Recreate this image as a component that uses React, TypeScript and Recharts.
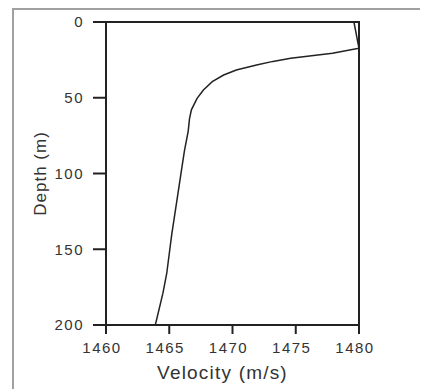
import React from 'react';
import { LineChart, Line, XAxis, YAxis, ReferenceArea } from 'recharts';

// depth (m) and sound velocity (m/s)
const depths = [0, 17.4, 20.7, 24, 26, 28.4, 31.7, 35, 39.4, 44.9, 50.4, 58, 64, 72, 85, 96, 118, 140, 166, 179, 200];
const velocities = [
  1479.6, 1480.0, 1477.9, 1474.6, 1473.2, 1471.9, 1470.3, 1469.3, 1468.4, 1467.7, 1467.2,
  1466.75, 1466.6, 1466.5, 1466.2, 1466.0, 1465.6, 1465.2, 1464.8, 1464.5, 1463.9,
];
const velocityTicks = [1460, 1465, 1470, 1475, 1480];
const depthTicks = [0, 50, 100, 150, 200];

const data = depths.map((depth, i) => ({ depth, velocity: velocities[i] }));

const font = '"Liberation Sans", Arial, sans-serif';
const ink = '#222';
const tickStyle = { fill: '#333', fontSize: 15, fontFamily: font, letterSpacing: 1.5 };

export default function App() {
  return (
    <div style={{ position: 'relative', width: 420, height: 381, overflow: 'hidden', background: '#fff' }}>
      <div style={{
        position: 'absolute', left: 4, top: 0, width: 600, height: 600,
        border: '2px solid #a0a0a0', boxSizing: 'border-box'
      }} />
      <div style={{ position: 'absolute', left: 0, top: 0 }}>
        <LineChart
          width={420}
          height={381}
          data={data}
          layout="vertical"
          margin={{ top: 14, right: 69, bottom: 4, left: 28 }}
        >
          <XAxis
            type="number"
            dataKey="velocity"
            domain={[1460, 1480]}
            ticks={velocityTicks}
            allowDataOverflow
            height={60}
            tickSize={9}
            tickMargin={8}
            axisLine={{ stroke: ink, strokeWidth: 2 }}
            tickLine={{ stroke: ink, strokeWidth: 2 }}
            tick={{ ...tickStyle, dx: -4 }}
            label={{
              value: 'Velocity (m/s)', position: 'insideBottom', offset: 6, dx: -10,
              style: { fill: '#333', fontSize: 19, fontFamily: font, letterSpacing: 1.2 }
            }}
          />
          <YAxis
            type="number"
            dataKey="depth"
            domain={[0, 200]}
            ticks={depthTicks}
            allowDataOverflow
            width={70}
            tickSize={13}
            tickMargin={9}
            axisLine={{ stroke: ink, strokeWidth: 2 }}
            tickLine={{ stroke: ink, strokeWidth: 2 }}
            tick={tickStyle}
            label={{
              value: 'Depth (m)', angle: -90, position: 'insideLeft', offset: 4,
              style: { fill: '#333', fontSize: 17, fontFamily: font, letterSpacing: 1, textAnchor: 'middle' }
            }}
          />
          <ReferenceArea
            x1={1460}
            x2={1480}
            y1={0}
            y2={200}
            fill="none"
            stroke={ink}
            strokeWidth={2}
            ifOverflow="visible"
          />
          <Line
            dataKey="velocity"
            type="linear"
            stroke={ink}
            strokeWidth={1.5}
            dot={false}
            isAnimationActive={false}
          />
        </LineChart>
      </div>
    </div>
  );
}
